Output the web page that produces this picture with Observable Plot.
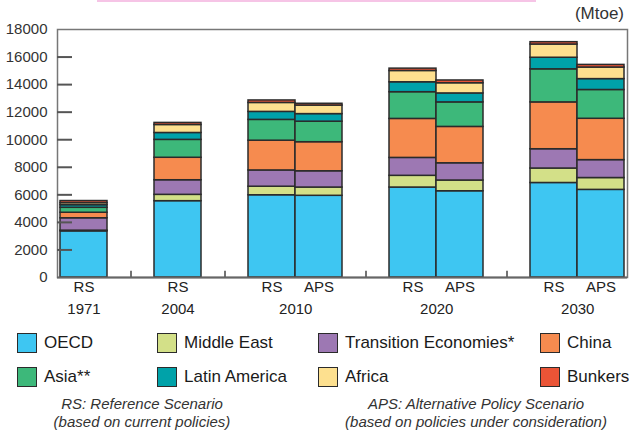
<!DOCTYPE html>
<html>
<head>
<meta charset="utf-8">
<script src="https://cdn.jsdelivr.net/npm/d3@7"></script>
<script src="https://cdn.jsdelivr.net/npm/@observablehq/plot@0.6"></script>
<style>
  html, body { margin: 0; padding: 0; background: #fff; }
  #wrap { position: relative; width: 629px; height: 434px; font-family: "Liberation Sans", Arial, sans-serif; color: #222; overflow: hidden; }
  #pink { position: absolute; left: 97px; top: 0; width: 439px; height: 2px; background: #f6c4e6; }
  #unit { position: absolute; right: 5px; top: 4px; font-size: 17px; color: #333; }
  #chart { position: absolute; left: 0; top: 0; }
  .leg { position: absolute; display: flex; align-items: center; font-size: 17px; color: #1a1a1a; white-space: nowrap; }
  .sw { width: 18px; height: 18px; border: 1.5px solid #2b2b2b; margin-right: 7px; box-sizing: content-box; }
  .note { position: absolute; width: 320px; text-align: center; font-style: italic; font-size: 15px; color: #333; line-height: 18px; }
</style>
</head>
<body>
<div id="wrap">
  <div id="pink"></div>
  <div id="chart"></div>
  <div id="unit">(Mtoe)</div>
</div>
<script>
// ---- data ----
const slots = ["1971 RS","gap1","2004 RS","gap2","2010 RS","2010 APS","gap3","2020 RS","2020 APS","gap4","2030 RS","2030 APS"];
const gaps = ["gap1","gap2","gap3","gap4"];
const bars = ["1971 RS","2004 RS","2010 RS","2010 APS","2020 RS","2020 APS","2030 RS","2030 APS"];
const scenarios = ["RS","RS","RS","APS","RS","APS","RS","APS"];
const years = ["1971","2004","2010","2020","2030"];
const yearFirstBar = ["1971 RS","2004 RS","2010 RS","2020 RS","2030 RS"];
const yearBarCount = [1, 1, 2, 2, 2];
const regions = ["OECD","Middle East","Transition Economies*","China","Asia**","Latin America","Africa","Bunkers"];
const colors = ["#3ec6f2","#d3e088","#9d78b3","#f68b4f","#3db87a","#00a2a9","#fde08f","#ea5436"];
const oecd         = [3350, 5540, 5970, 5930, 6530, 6260, 6860, 6360];
const middleEast   = [  50,  460,  620,  600,  850,  780, 1050,  860];
const transition   = [ 900, 1060, 1180, 1180, 1300, 1250, 1400, 1300];
const china        = [ 400, 1630, 2160, 2110, 2830, 2640, 3400, 3000];
const asia         = [ 360, 1300, 1510, 1490, 1940, 1780, 2400, 2090];
const latinAmerica = [ 190,  500,  580,  550,  720,  650,  840,  790];
const africa       = [ 150,  580,  650,  620,  820,  740,  960,  840];
const bunkers      = [ 150,  150,  180,  130,  170,  200,  170,  190];
const yTicks = [0,2000,4000,6000,8000,10000,12000,14000,16000,18000];
const legendOrder = ["OECD","Middle East","Transition Economies*","China","Asia**","Latin America","Africa","Bunkers"];

const series = [oecd, middleEast, transition, china, asia, latinAmerica, africa, bunkers];
const table = [];
bars.forEach((b, i) => regions.forEach((r, k) => table.push({bar: b, region: r, value: series[k][i]})));
const scenLabels = bars.map((b, i) => ({bar: b, label: scenarios[i]}));
const yearLabels = years.map((y, i) => ({bar: yearFirstBar[i], label: y, n: yearBarCount[i]}));

const W = 629, H = 320, ML = 57, MR = 2, MT = 29, MB = 43;
const bw = (W - ML - MR) / slots.length;

const chart = Plot.plot({
  width: W, height: H,
  marginLeft: ML, marginRight: MR, marginTop: MT, marginBottom: MB,
  style: {fontFamily: "Liberation Sans, Arial, sans-serif", fontSize: "15px", color: "#333", background: "transparent"},
  x: {domain: slots, padding: 0, axis: null},
  y: {domain: [0, 18000]},
  color: {domain: regions, range: colors},
  marks: [
    Plot.frame({stroke: "#777", strokeWidth: 1.5}),
    Plot.barY(table, {x: "bar", y: "value", fill: "region", order: regions, stroke: "#2b2b2b", strokeWidth: 1.5}),
    Plot.ruleY(yTicks.filter(d => d > 0 && d < 18000), {y: d => d, stroke: "#555", strokeWidth: 2, insetRight: (W - ML - MR) - 15}),
    Plot.ruleX(gaps, {x: d => d, y1: 0, y2: 450, stroke: "#444", strokeWidth: 1.5}),
    Plot.ruleY([0], {stroke: "#666", strokeWidth: 2}),
    Plot.axisY({ticks: yTicks, label: null, tickSize: 0, tickPadding: 10, tickFormat: d => String(d), fontSize: 15, fill: "#333"}),
    Plot.text(scenLabels, {x: "bar", text: "label", frameAnchor: "bottom", dy: 14, fontSize: 15, fill: "#222"}),
    Plot.text(yearLabels.filter(d => d.n === 1), {x: "bar", text: "label", frameAnchor: "bottom", dy: 36, fontSize: 15, fill: "#222"}),
    Plot.text(yearLabels.filter(d => d.n === 2), {x: "bar", text: "label", frameAnchor: "bottom", dy: 36, dx: bw / 2, fontSize: 15, fill: "#222"})
  ]
});
document.getElementById("chart").appendChild(chart);

// legend
const wrap = document.getElementById("wrap");
const colX = [17, 157, 318, 540];
const rowY = [333, 367];
legendOrder.forEach((r, i) => {
  const d = document.createElement("div");
  d.className = "leg";
  d.style.left = colX[i % 4] + "px";
  d.style.top = rowY[Math.floor(i / 4)] + "px";
  d.innerHTML = `<div class="sw" style="background:${colors[regions.indexOf(r)]}"></div><span>${r}</span>`;
  wrap.appendChild(d);
});
const notes = [["RS: Reference Scenario", "(based on current policies)", -18], ["APS: Alternative Policy Scenario", "(based on policies under consideration)", 316]];
notes.forEach(([a, b, left]) => {
  const n = document.createElement("div");
  n.className = "note";
  n.style.left = left + "px";
  n.style.top = "395px";
  n.innerHTML = a + "<br>" + b;
  wrap.appendChild(n);
});
</script>
</body>
</html>
